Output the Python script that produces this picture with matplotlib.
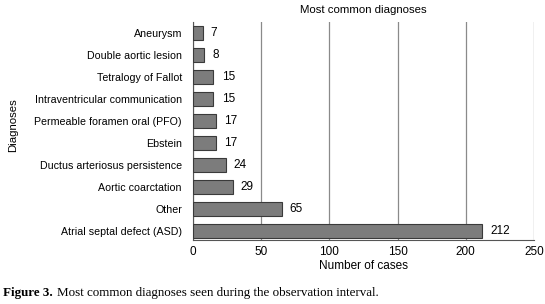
import matplotlib.pyplot as plt

diagnoses = ['Atrial septal defect (ASD)', 'Other', 'Aortic coarctation',
             'Ductus arteriosus persistence', 'Ebstein',
             'Permeable foramen oral (PFO)', 'Intraventricular communication',
             'Tetralogy of Fallot', 'Double aortic lesion', 'Aneurysm']
cases = [212, 65, 29, 24, 17, 17, 15, 15, 8, 7]
xticks = [0, 50, 100, 150, 200, 250]

plt.rcParams['font.family'] = ['Liberation Sans', 'DejaVu Sans']
plt.rcParams['font.size'] = 8.2

fig = plt.figure(figsize=(5.45, 3.04), dpi=100)
ax = fig.add_axes([193/545, 1 - 240/304, 341/545, 218/304])

ax.barh(range(len(cases)), cases, height=0.62, color='#7c7c7c',
        edgecolor='#3a3a3a', linewidth=0.8, zorder=3)
for i, v in enumerate(cases):
    ax.text(v + 6, i, str(v), va='center', ha='left', fontsize=8.5)

ax.set_xlim(0, 250)
ax.set_ylim(-0.41, len(cases) - 0.5)
ax.set_xticks(xticks)
ax.set_yticks(range(len(cases)))
ax.set_yticklabels(diagnoses)
ax.tick_params(length=0, pad=4, labelsize=8.5)
ax.tick_params(axis='y', pad=8, labelsize=7.7)
ax.xaxis.grid(True, color='#8a8a8a', linewidth=0.9, zorder=0)
for s in ['top', 'right']:
    ax.spines[s].set_visible(False)
ax.spines['left'].set_color('#555555')
ax.spines['bottom'].set_color('#555555')

ax.set_xlabel('Number of cases', labelpad=2, fontsize=8.5)
fig.text(8/545, 1 - 125/304, 'Diagnoses', rotation=90, va='center', ha='left',
         fontsize=8.2)
fig.text(363/545, 1 - 10/304, 'Most common diagnoses', ha='center',
         va='center', fontsize=8.2)

# caption: bold label then plain text right after it
fig.canvas.draw()
lab = fig.text(3/545, 1 - 293/304, 'Figure 3.', family='Liberation Serif',
               fontweight='bold', fontsize=9.4, va='center')
ext = lab.get_window_extent(fig.canvas.get_renderer())
fig.text((ext.x1 + 4) / fig.bbox.width, 1 - 293/304,
         'Most common diagnoses seen during the observation interval.',
         family='Liberation Serif', fontsize=9.4, va='center')

fig.savefig('out.png', dpi=100)
